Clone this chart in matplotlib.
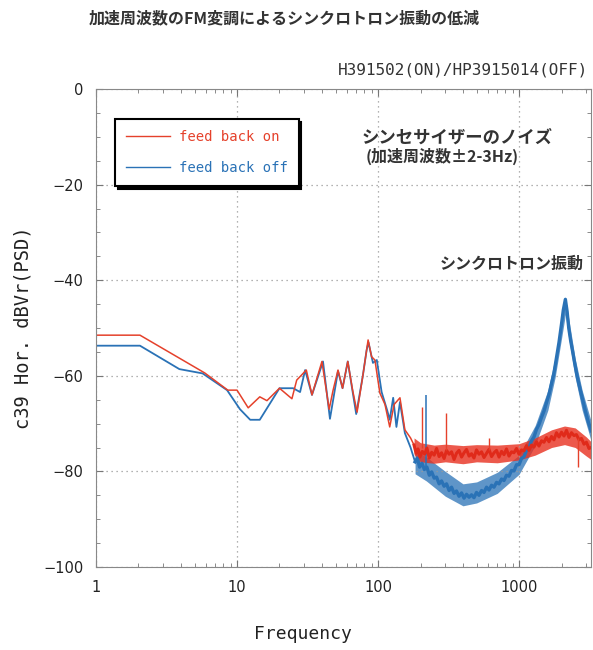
import matplotlib
matplotlib.use('Agg')
import matplotlib.pyplot as plt
from matplotlib.ticker import MultipleLocator, LogLocator, NullFormatter

jp = ['Noto Sans CJK JP', 'DejaVu Sans']
mono = ['DejaVu Sans Mono']

# feed back on, low frequency part (Hz, dB)
on_lo_f = [1, 2.05, 5.9, 8.6, 10, 12, 14.5, 16.3, 20, 24.5, 26.5, 31, 34, 40, 45, 48,
           52, 56, 61, 66, 71, 78, 85, 90, 95, 103, 112, 121, 130, 143, 155, 170, 180]
on_lo_db = [-51.5, -51.5, -59.4, -63, -63, -66.7, -64.4, -65.2, -62.6, -64.8, -60.9, -58.8,
            -64, -57, -67, -63, -58.8, -62.6, -57, -63, -67.6, -60, -52.5, -56, -56.7,
            -63.6, -66, -70.7, -66, -64.6, -71.3, -73, -74.5]

# feed back on, noisy high frequency part
on_hi_f = [180, 186, 192, 198, 206, 214, 222, 231, 240, 250, 260, 271, 282, 294, 306, 319,
           332, 346, 360, 375, 391, 407, 424, 442, 460, 479, 499, 520, 542, 564, 588, 612,
           638, 664, 692, 721, 751, 782, 814, 848, 884, 920, 959, 999, 1040, 1084, 1129,
           1176, 1225, 1276, 1329, 1384, 1442, 1502, 1565, 1630, 1698, 1768, 1842, 1919,
           1999, 2082, 2169, 2259, 2353, 2451, 2553, 2660, 2770, 2886, 3006, 3131, 3240]
on_hi_db = [-74.5, -76.2, -75.3, -77, -75.8, -76.4, -75.1, -77.2, -76, -76.6, -75.2, -76.9,
            -76.1, -77.3, -75.6, -76.4, -75.9, -77.5, -76.2, -75.6, -77, -76.1, -75.4,
            -76.8, -76.3, -77.2, -75.5, -76.4, -75.9, -77.1, -76.2, -75.4, -76.9, -76.1,
            -75.6, -77, -75.8, -76.5, -75.3, -76.8, -75.9, -76.1, -75.2, -76.4, -75.5,
            -75.7, -74.6, -75.6, -74.5, -74.9, -73.8, -74.7, -73.6, -73.9, -72.9, -73.8,
            -72.7, -73.4, -71.9, -72.8, -71.8, -72.6, -71.4, -72.9, -71.9, -72.5, -72.3,
            -73.4, -73.1, -74.3, -73.9, -75.2, -75.0]
# envelope of the red noise band
on_band_f = [180, 200, 250, 300, 400, 500, 700, 1000, 1300, 1700, 2100, 2500, 3000, 3240]
on_band_hi = [-73, -74, -74.5, -74.3, -74.6, -74.4, -74.5, -74.2, -73, -71.3, -70.5,
              -70.9, -72.8, -73.8]
on_band_lo = [-76.5, -78, -78.3, -78, -78.4, -78, -78.2, -77.6, -76.6, -75, -74.4, -75,
              -76.8, -77.5]
# narrow spikes on the red trace: frequency, base, tip
on_spike_f = [205, 303, 610, 2620]
on_spike_base = [-75, -75.5, -75.5, -73]
on_spike_tip = [-66.5, -67.8, -73, -79]

# feed back off, low frequency part
off_lo_f = [1, 2.05, 3.9, 5.7, 8.5, 10.5, 12.4, 14.5, 20, 25, 28, 30.4, 34, 40.7, 45.6, 52,
            56, 61, 70, 78, 83, 85.5, 92, 98, 106, 116, 121, 128, 135, 143, 155, 170, 183]
off_lo_db = [-53.7, -53.7, -58.6, -59.5, -63, -67, -69.2, -69.2, -62.6, -62.6, -63.4, -58.8,
             -64, -57, -69, -59, -62.6, -57, -68, -60, -54.6, -53, -57.3, -56.7, -63.4,
             -67.2, -69.2, -64.6, -70.7, -65.5, -72, -75, -78]

# feed back off, noisy high frequency part with synchrotron peak
off_hi_f = [183, 190, 197, 205, 213, 222, 231, 240, 250, 260, 271, 282, 294, 306, 319, 332,
            346, 360, 375, 391, 407, 424, 442, 460, 479, 499, 520, 542, 564, 588, 612, 638,
            664, 692, 721, 751, 782, 814, 848, 884, 920, 959, 999, 1040, 1084, 1129, 1176,
            1225, 1276, 1329, 1384, 1442, 1502, 1565, 1630, 1698, 1768, 1842, 1919, 1999,
            2060, 2130, 2190, 2250, 2320, 2400, 2480, 2560, 2650, 2750, 2850, 2960, 3080,
            3240]
off_hi_db = [-78, -77.2, -79.1, -78.3, -79.6, -79.1, -80.8, -80.1, -81.4, -81.2, -82.6,
             -82, -83.1, -82.6, -84, -83.3, -84.6, -84.1, -85.2, -84.5, -85.6, -84.8, -85.4,
             -84.9, -85.5, -84.4, -85, -84, -84.4, -83.3, -83.9, -82.9, -83.3, -82.3, -82.6,
             -81.6, -81.9, -80.8, -81, -79.8, -79.9, -78.6, -78.6, -77.3, -76.9, -75.6,
             -75, -73.6, -72.8, -71.2, -70.2, -68.7, -67.4, -65.6, -63.9, -61.6, -59.4,
             -56.2, -53, -49.2, -46.2, -44, -46.5, -50, -52.6, -55, -57.4, -59.6, -61.6,
             -63.6, -65.5, -67.5, -69.4, -71.5]
# envelope of the blue noise band
off_band_f = [183, 220, 300, 400, 500, 700, 1000, 1300, 1600, 1800, 2000, 2130, 2250, 2500,
              2800, 3240]
off_band_hi = [-75.5, -77, -80, -82.6, -82.2, -80.2, -76.6, -70.4, -63, -56.2, -48.2,
               -43.5, -48, -56.4, -63, -69.5]
off_band_lo = [-80.5, -82, -85.2, -87.2, -86.6, -84.6, -80.6, -74.6, -67.2, -60.4, -52.2,
               -47.2, -52.2, -60.4, -67.2, -73.6]
off_spike_f = [218]
off_spike_base = [-79]
off_spike_tip = [-64]

red = '#e5412b'
blue = '#2a72b6'

fig = plt.figure(figsize=(5.93, 6.5), dpi=100)
ax = fig.add_axes([96 / 593, 1 - 567 / 650, 495 / 593, 478 / 650])

ax.plot(off_lo_f, off_lo_db, color=blue, lw=1.3, label='feed back off')
ax.fill_between(off_band_f, off_band_lo, off_band_hi, color=blue, alpha=0.75, lw=0)
ax.plot(off_hi_f, off_hi_db, color=blue, lw=2.4, solid_joinstyle='round')
ax.vlines(off_spike_f, off_spike_base, off_spike_tip, color=blue, lw=1.1)
ax.plot(on_lo_f, on_lo_db, color=red, lw=1.1, label='feed back on')
ax.fill_between(on_band_f, on_band_lo, on_band_hi, color='#e8301f', alpha=0.8, lw=0)
ax.plot(on_hi_f, on_hi_db, color='#e02a1a', lw=2.2, solid_joinstyle='round')
ax.vlines(on_spike_f, on_spike_base, on_spike_tip, color=red, lw=1.0)

ax.set_xscale('log')
ax.set_xlim(1, 10 ** 3.51)
ax.set_ylim(-100, 0)
ax.set_xticks([1, 10, 100, 1000])
ax.set_xticklabels(['1', '10', '100', '1000'])
ax.xaxis.set_minor_locator(LogLocator(base=10, subs=range(2, 10)))
ax.xaxis.set_minor_formatter(NullFormatter())
ax.yaxis.set_major_locator(MultipleLocator(20))
ax.yaxis.set_minor_locator(MultipleLocator(5))

ax.tick_params(which='both', direction='in', top=True, right=True, colors='#777777',
               labelcolor='#222222', labelsize=10.5, pad=9)
ax.tick_params(which='major', length=5)
ax.tick_params(which='minor', length=3)
for s in ax.spines.values():
    s.set_color('#888888')
ax.grid(True, which='major', ls=(0, (1, 3)), color='#999999', lw=0.9)

h, l = ax.get_legend_handles_labels()
leg = ax.legend(h[::-1], l[::-1], loc='upper left', bbox_to_anchor=(0.024, 0.952),
                frameon=True, fancybox=False, edgecolor='black', framealpha=1,
                shadow={'color': 'black', 'alpha': 1}, labelcolor='linecolor',
                prop={'family': mono, 'size': 10}, handlelength=3.2,
                labelspacing=1.2, borderpad=0.8, handletextpad=0.6)
leg.get_frame().set_linewidth(1.5)
for ln in leg.get_lines():
    ln.set_linewidth(1.0)

fig.text(362 / 593, 1 - 138 / 650, 'シンセサイザーのノイズ', family=jp, fontsize=12.5,
         fontweight='bold', color='#333333', va='center', ha='left')
fig.text(366 / 593, 1 - 156 / 650, '(加速周波数±2-3Hz)', family=jp, fontsize=11.5,
         fontweight='bold', color='#333333', va='center', ha='left')
fig.text(440 / 593, 1 - 264 / 650, 'シンクロトロン振動', family=jp, fontsize=11.5,
         fontweight='bold', color='#333333', va='center', ha='left')

fig.text(284 / 593, 1 - 18 / 650, '加速周波数のFM変調によるシンクロトロン振動の低減',
         family=jp, fontsize=11.5, fontweight='bold', color='#333333',
         ha='center', va='center')
fig.text(588 / 593, 1 - 70 / 650, 'H391502(ON)/HP3915014(OFF)', family=mono,
         fontsize=11.5, color='#333333', ha='right', va='center')

fig.text(303 / 593, 1 - 634 / 650, 'Frequency', family=mono, fontsize=13,
         color='#222222', ha='center', va='center')
fig.text(23 / 593, 1 - 328 / 650, 'c39 Hor. dBVr(PSD)', family=mono, fontsize=13.5,
         color='#222222', ha='center', va='center', rotation=90)

fig.savefig('out.png', dpi=100)
